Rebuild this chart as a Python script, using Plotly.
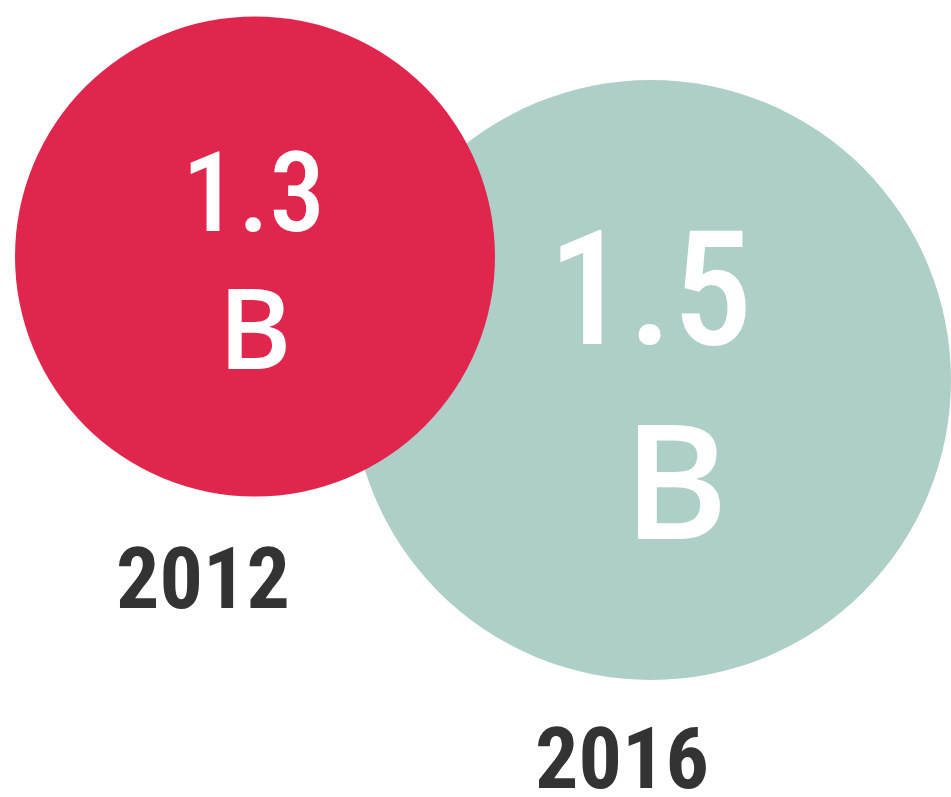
import plotly.graph_objects as go

# Data
years = ["2012", "2016"]
values = [1.3, 1.5]
unit = "B"

# Styles / layout (page pixel coordinates)
W, H = 951, 797
colors = ["#E1264E", "#AECFC7"]
centers_x = [255, 651]
centers_y = [256.5, 380]
diameters = [480, 600]
value_font = [112, 160]
value_pos = [(253, 192), (650, 289)]
unit_pos = [(255, 325), (675, 477)]
year_pos = [(202.5, 578), (621.5, 758.5)]
VALUE_FAMILY = "Roboto Condensed, Roboto"
UNIT_FAMILY = "Open Sans"
YEAR_FAMILY = "Roboto Condensed, Roboto"

fig = go.Figure()
# draw 2016 first (behind), then 2012
for i in [1, 0]:
    fig.add_trace(go.Scatter(
        x=[centers_x[i]], y=[centers_y[i]], mode="markers",
        marker=dict(size=diameters[i], color=colors[i], line=dict(width=0), opacity=1),
        hoverinfo="skip", showlegend=False, cliponaxis=False,
    ))

annotations = []
for i in range(2):
    annotations.append(dict(x=value_pos[i][0], y=value_pos[i][1], text=f"{values[i]:.1f}",
                            showarrow=False, xanchor="center", yanchor="middle",
                            font=dict(family=VALUE_FAMILY, size=value_font[i], color="white", weight=500)))
    annotations.append(dict(x=unit_pos[i][0], y=unit_pos[i][1], text=unit,
                            showarrow=False, xanchor="center", yanchor="middle",
                            font=dict(family=UNIT_FAMILY, size=value_font[i], color="white", weight=600)))
    annotations.append(dict(x=year_pos[i][0], y=year_pos[i][1], text=years[i],
                            showarrow=False, xanchor="center", yanchor="middle",
                            font=dict(family=YEAR_FAMILY, size=86, color="#333333", weight="bold")))

fig.update_layout(
    width=W, height=H,
    margin=dict(l=0, r=0, t=0, b=0),
    paper_bgcolor="white", plot_bgcolor="white",
    xaxis=dict(range=[0, W], visible=False, fixedrange=True),
    yaxis=dict(range=[H, 0], visible=False, fixedrange=True),
    annotations=annotations,
    showlegend=False,
)

fig.write_html(
    "out.html",
    config={"displayModeBar": False},
    post_script="document.body.style.margin='0';document.body.style.overflow='hidden';",
)
